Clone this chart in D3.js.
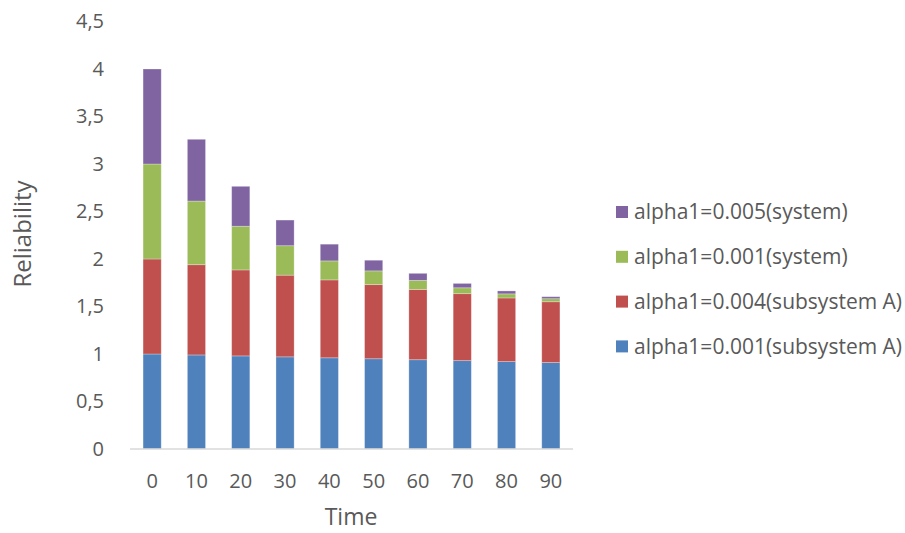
<!DOCTYPE html>
<html>
<head>
<meta charset="utf-8">
<script src="https://cdn.jsdelivr.net/npm/d3@7"></script>
<style>
  html, body { margin: 0; padding: 0; background: #fff; }
  svg text { font-family: "Open Sans", "Liberation Sans", sans-serif; fill: #595959; }
</style>
</head>
<body>
<svg id="chart" width="905" height="533"></svg>
<script>
// Time points (x categories)
const times = ["0", "10", "20", "30", "40", "50", "60", "70", "80", "90"];

// Reliability per series, stacked bottom to top
const subsystemA001 = [1.0, 0.99, 0.98, 0.97, 0.96, 0.95, 0.94, 0.93, 0.92, 0.91];
const subsystemA004 = [1.0, 0.95, 0.905, 0.86, 0.82, 0.78, 0.74, 0.705, 0.67, 0.64];
const system001     = [1.0, 0.67, 0.46, 0.31, 0.20, 0.145, 0.095, 0.062, 0.043, 0.032];
const system005     = [1.0, 0.65, 0.42, 0.27, 0.176, 0.112, 0.074, 0.046, 0.031, 0.021];

const seriesNames = [
  "alpha1=0.001(subsystem A)",
  "alpha1=0.004(subsystem A)",
  "alpha1=0.001(system)",
  "alpha1=0.005(system)"
];
const seriesColors = ["#4F81BD", "#C0504D", "#9BBB59", "#8064A2"];

// Y axis tick labels (comma decimal separator)
const yTicks = [0, 0.5, 1, 1.5, 2, 2.5, 3, 3.5, 4, 4.5];
const yTickLabels = ["0", "0,5", "1", "1,5", "2", "2,5", "3", "3,5", "4", "4,5"];

const seriesValues = [subsystemA001, subsystemA004, system001, system005];
const rows = times.map((t, i) => {
  const r = { time: t };
  seriesNames.forEach((n, k) => { r[n] = seriesValues[k][i]; });
  return r;
});

const svg = d3.select("#chart");
const plot = { left: 130, right: 573, top: 21.5, bottom: 449 };

const x = d3.scaleBand().domain(times).range([plot.left, plot.right]).paddingInner(0.59).paddingOuter(0.295);
const y = d3.scaleLinear().domain([0, 4.5]).range([plot.bottom, plot.top]);
const color = d3.scaleOrdinal().domain(seriesNames).range(seriesColors);

const stacked = d3.stack().keys(seriesNames)(rows);

// Bars
svg.append("g")
  .selectAll("g")
  .data(stacked)
  .join("g")
  .attr("fill", d => color(d.key))
  .selectAll("rect")
  .data(d => d)
  .join("rect")
  .attr("x", d => x(d.data.time))
  .attr("width", x.bandwidth())
  .attr("y", d => y(d[1]))
  .attr("height", d => y(d[0]) - y(d[1]))
  .attr("stroke", "#ffffff")
  .attr("stroke-opacity", 0.35)
  .attr("stroke-width", 0.8);

// X axis
const xAxis = svg.append("g")
  .attr("transform", `translate(0,${plot.bottom})`)
  .call(d3.axisBottom(x).tickSize(0).tickPadding(25));
xAxis.select(".domain").attr("stroke", "#D9D9D9").attr("stroke-width", 1.3)
  .attr("d", `M${plot.left},0H${plot.right}`);
xAxis.selectAll("text").attr("font-size", 20).style("font-family", null);

// Y axis (labels only)
const yAxis = svg.append("g")
  .attr("transform", `translate(104,0)`)
  .call(d3.axisLeft(y).tickValues(yTicks).tickFormat((d, i) => yTickLabels[i]).tickSize(0).tickPadding(0));
yAxis.select(".domain").remove();
yAxis.selectAll("text").attr("font-size", 20).style("font-family", null);

// Axis titles
svg.append("text")
  .attr("x", 351)
  .attr("y", 525)
  .attr("text-anchor", "middle")
  .attr("font-size", 23)
  .text("Time");

svg.append("text")
  .attr("transform", "translate(31,234) rotate(-90)")
  .attr("text-anchor", "middle")
  .attr("font-size", 24)
  .text("Reliability");

// Legend (top series first)
const legendItems = seriesNames.map((n, k) => ({ name: n, color: seriesColors[k] })).reverse();
const legend = svg.append("g")
  .selectAll("g")
  .data(legendItems)
  .join("g")
  .attr("transform", (d, i) => `translate(616,${212 + i * 44.8})`);
legend.append("rect")
  .attr("x", 0).attr("y", -6)
  .attr("width", 12).attr("height", 12)
  .attr("fill", d => d.color);
legend.append("text")
  .attr("x", 18).attr("y", 0)
  .attr("dy", "0.35em")
  .attr("font-size", 21)
  .text(d => d.name);
</script>
</body>
</html>
